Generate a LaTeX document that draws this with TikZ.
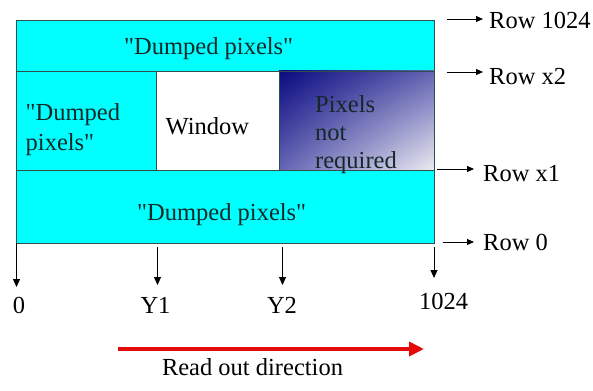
\documentclass[tikz,border=0pt]{standalone}
\usepackage{fontspec}
\setmainfont{Liberation Serif}[Ligatures=TeXOff]
\usetikzlibrary{arrows.meta,shadings}

\definecolor{cellcyan}{RGB}{0,255,255}
\definecolor{celledge}{RGB}{47,79,79}
\definecolor{celltext}{RGB}{20,40,40}
\definecolor{shadedark}{RGB}{10,10,128}
\definecolor{shademid}{RGB}{100,100,180}
\definecolor{shadelight}{RGB}{235,235,242}
\definecolor{readred}{RGB}{228,10,10}

\tikzset{
  cell/.style={draw=celledge, line width=0.9pt, fill=cellcyan, inner sep=0pt,
               anchor=north west},
  lbl/.style={font=\fontsize{24.5}{29.5}\selectfont, inner sep=0pt,
              anchor=base west, text=celltext, align=left},
  plainlbl/.style={font=\fontsize{24.5}{29.5}\selectfont, inner sep=0pt,
              anchor=base, text=black},
  rowarrow/.style={-{Triangle[length=7pt,width=6pt]}, line width=0.8pt},
  colarrow/.style={-{Triangle[length=8pt,width=7pt]}, line width=0.8pt},
  readarrow/.style={-{Triangle[length=15pt,width=14pt]}, line width=4pt, draw=readred}
}

\begin{document}
\begin{tikzpicture}[x=1pt,y=-1pt]
  \useasboundingbox[fill=white] (0,0) rectangle (593,390);

  % the frame, split into its five regions
  \node[cell, minimum width=418pt, minimum height=51pt] (topcell) at (16,20) {};
  \node[cell, minimum width=140pt, minimum height=99pt] (leftcell) at (16,71) {};
  \node[cell, fill=white, minimum width=123pt, minimum height=99pt] (window) at (156,71) {};
  \shade[upper left=shadedark, upper right=shademid, lower left=shademid,
         lower right=shadelight] (279,71) rectangle (434,170);
  \node[cell, fill=none, minimum width=155pt, minimum height=99pt] (notreq) at (279,71) {};
  \node[cell, minimum width=418pt, minimum height=73pt] (bottomcell) at (16,170) {};

  % region labels (multi-line nodes sit on their last baseline)
  \node[lbl] (ttop) at (124,55) {"Dumped pixels"};
  \node[lbl] (tleft) at (25.5,150) {"Dumped\\pixels"};
  \node[lbl, text=black] (twin) at (165.5,135) {Window};
  \node[lbl] (tnot) at (315,168) {Pixels\\[-1.5pt]not\\[-2pt]required};
  \node[lbl] (tbot) at (137,220) {"Dumped pixels"};

  % row markers on the right
  \coordinate (ra1) at (447,19);  \coordinate (rb1) at (483,19);
  \coordinate (ra2) at (447,72);  \coordinate (rb2) at (483,72);
  \coordinate (ra3) at (437,169); \coordinate (rb3) at (474,169);
  \coordinate (ra4) at (443,242); \coordinate (rb4) at (474,242);
  \draw[rowarrow] (ra1) -- (rb1);
  \draw[rowarrow] (ra2) -- (rb2);
  \draw[rowarrow] (ra3) -- (rb3);
  \draw[rowarrow] (ra4) -- (rb4);
  \node[lbl, text=black] (row1024) at (489,28.5) {Row 1024};
  \node[lbl, text=black] (rowx2) at (489,85) {Row x2};
  \node[lbl, text=black] (rowx1) at (483,181.5) {Row x1};
  \node[lbl, text=black] (row0) at (483,250) {Row 0};

  % column markers below
  \coordinate (ca1) at (16.5,243); \coordinate (cb1) at (16.5,287);
  \coordinate (ca2) at (157.5,247); \coordinate (cb2) at (157.5,285);
  \coordinate (ca3) at (282.5,247); \coordinate (cb3) at (282.5,285);
  \coordinate (ca4) at (434,247); \coordinate (cb4) at (434,278);
  \draw[colarrow] (ca1) -- (cb1);
  \draw[colarrow] (ca2) -- (cb2);
  \draw[colarrow] (ca3) -- (cb3);
  \draw[colarrow] (ca4) -- (cb4);
  \node[plainlbl] (col0) at (19,313) {0};
  \node[plainlbl] (coly1) at (155.5,313) {Y1};
  \node[plainlbl] (coly2) at (282,313) {Y2};
  \node[plainlbl] (col1024) at (443.5,309) {1024};

  % read-out direction
  \coordinate (rda) at (118,349);
  \coordinate (rdb) at (424,349);
  \draw[readarrow] (rda) -- (rdb);
  \node[plainlbl] (readout) at (252.5,375) {Read out direction};
\end{tikzpicture}
\end{document}
